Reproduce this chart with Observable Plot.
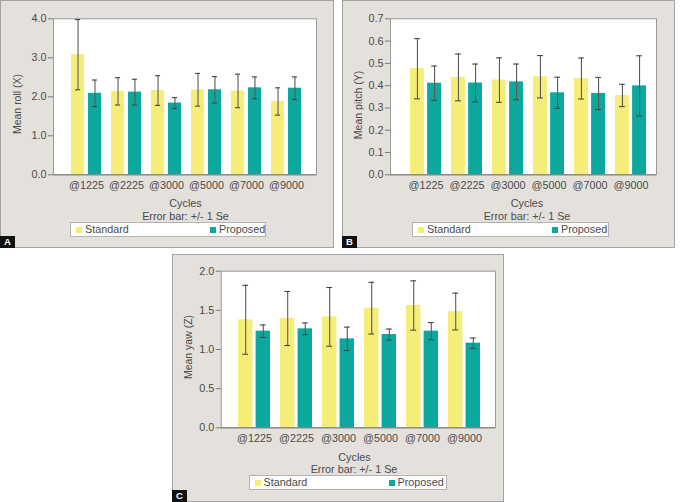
<!DOCTYPE html>
<html>
<head>
<meta charset="utf-8">
<script src="https://cdn.jsdelivr.net/npm/d3@7"></script>
<script src="https://cdn.jsdelivr.net/npm/@observablehq/plot@0.6"></script>
<style>
  html, body { margin: 0; padding: 0; background: #ffffff; }
  #page { position: relative; width: 680px; height: 502px; overflow: hidden; font-family: "Liberation Sans", Arial, sans-serif; color: #4a4a4a; }
  .box { position: absolute; box-sizing: border-box; background: #e4e1dd; border: 1.5px solid #a2a2a2; }
  .svgwrap { position: absolute; }
  .txt { position: absolute; font-size: 10.8px; white-space: nowrap; transform: translate(-50%, -50%); line-height: 1; }
  .ylab { position: absolute; font-size: 10.5px; white-space: nowrap; transform: translate(-50%, -50%) rotate(-90deg); line-height: 1; }
  .legend { position: absolute; box-sizing: border-box; background: #ffffff; border: 1px solid #b4b4b4; }
  .sw { position: absolute; width: 6px; height: 6px; top: 3.5px; }
  .lt { position: absolute; font-size: 10.8px; top: 1px; line-height: 1; white-space: nowrap; }
  .tag { position: absolute; width: 15px; height: 12px; background: #111; color: #fff; font-weight: bold; font-size: 9.5px; text-align: center; line-height: 12px; }
</style>
</head>
<body>
<div id="page"></div>
<script>
// ---------- data ----------
const cycles = ["@1225", "@2225", "@3000", "@5000", "@7000", "@9000"];
const seriesNames = ["Standard", "Proposed"];

const rollStandard   = [3.08, 2.14, 2.16, 2.18, 2.15, 1.88];
const rollStandardSe = [0.90, 0.35, 0.38, 0.42, 0.43, 0.35];
const rollProposed   = [2.09, 2.12, 1.84, 2.18, 2.23, 2.22];
const rollProposedSe = [0.34, 0.33, 0.14, 0.34, 0.28, 0.29];
const rollTicks = [0, 1, 2, 3, 4];

const pitchStandard   = [0.476, 0.437, 0.425, 0.440, 0.432, 0.356];
const pitchStandardSe = [0.135, 0.105, 0.100, 0.095, 0.092, 0.050];
const pitchProposed   = [0.411, 0.412, 0.417, 0.368, 0.365, 0.399];
const pitchProposedSe = [0.077, 0.085, 0.080, 0.070, 0.072, 0.135];
const pitchTicks = [0, 0.1, 0.2, 0.3, 0.4, 0.5, 0.6, 0.7];

const yawStandard   = [1.379, 1.396, 1.417, 1.528, 1.562, 1.485];
const yawStandardSe = [0.440, 0.345, 0.375, 0.330, 0.315, 0.235];
const yawProposed   = [1.234, 1.264, 1.136, 1.191, 1.234, 1.081];
const yawProposedSe = [0.080, 0.075, 0.150, 0.070, 0.110, 0.066];
const yawTicks = [0, 0.5, 1, 1.5, 2];

const yellow = "#f4ee78";
const teal = "#0da89d";

function rows(std, stdSe, prop, propSe) {
  const out = [];
  cycles.forEach((c, i) => {
    out.push({cycle: c, series: seriesNames[0], value: std[i], lo: std[i] - stdSe[i], hi: std[i] + stdSe[i]});
    out.push({cycle: c, series: seriesNames[1], value: prop[i], lo: prop[i] - propSe[i], hi: prop[i] + propSe[i]});
  });
  return out;
}

const panels = [
  {tag: "A", ylabel: "Mean roll (X)", data: rows(rollStandard, rollStandardSe, rollProposed, rollProposedSe),
   domain: [0, 4], ticks: rollTicks,
   box: {l: 0, t: 0, w: 334, h: 248}, frame: {l: 53, t: 18.3, r: 316, b: 174.3}, align: 0.56,
   legend: {l: 70, t: 222, w: 196}, cycles: {x: 185.5, y: 203.3}, err: {x: 185.5, y: 216}, ylab: {x: 17, y: 104}},
  {tag: "B", ylabel: "Mean pitch (Y)", data: rows(pitchStandard, pitchStandardSe, pitchProposed, pitchProposedSe),
   domain: [0, 0.7], ticks: pitchTicks,
   box: {l: 342, t: 0, w: 333, h: 248}, frame: {l: 390, t: 18.3, r: 656, b: 174.3}, align: 0.66,
   legend: {l: 412, t: 222, w: 197}, cycles: {x: 527, y: 203.3}, err: {x: 527, y: 216}, ylab: {x: 358, y: 105}},
  {tag: "C", ylabel: "Mean yaw (Z)", data: rows(yawStandard, yawStandardSe, yawProposed, yawProposedSe),
   domain: [0, 2], ticks: yawTicks,
   box: {l: 172, t: 254, w: 332, h: 248}, frame: {l: 220.7, t: 270.7, r: 495, b: 427.3}, align: 0.53,
   legend: {l: 248.5, t: 475, w: 198}, cycles: {x: 354.5, y: 456.7}, err: {x: 354, y: 468.5}, ylab: {x: 187.5, y: 347}}
];

const page = document.getElementById("page");
function el(cls, css, text) {
  const d = document.createElement("div");
  d.className = cls;
  Object.assign(d.style, css);
  if (text != null) d.textContent = text;
  page.appendChild(d);
  return d;
}

const paddingInner = 0.245, paddingOuter = 0.34, gap = 3, cap = 3;

for (const p of panels) {
  const {box, frame} = p;
  el("box", {left: box.l + "px", top: box.t + "px", width: box.w + "px", height: box.h + "px"});

  const svgH = Math.round(frame.b - box.t + 22);
  const mL = frame.l - box.l, mT = frame.t - box.t, mR = box.l + box.w - frame.r, mB = svgH - (frame.b - box.t);

  const xs = Plot.scale({x: {type: "band", domain: cycles, range: [mL, box.w - mR], paddingInner, paddingOuter, align: p.align}});
  const bw = xs.bandwidth;
  const off = bw / 4 + gap / 4;
  const std = p.data.filter(d => d.series === seriesNames[0]);
  const prop = p.data.filter(d => d.series === seriesNames[1]);

  const chart = Plot.plot({
    width: box.w, height: svgH,
    marginLeft: mL, marginTop: mT, marginRight: mR, marginBottom: mB,
    style: {background: "transparent", fontFamily: "'Liberation Sans', Arial, sans-serif", fontSize: "10.8px", color: "#4a4a4a", overflow: "visible"},
    x: {domain: cycles, type: "band", paddingInner, paddingOuter, align: p.align, label: null},
    y: {domain: p.domain, label: null},
    marks: [
      Plot.frame({fill: "white", stroke: "#9a9a9a", strokeWidth: 1}),
      Plot.barY(std, {x: "cycle", y: "value", fill: yellow, insetRight: bw / 2 + gap / 2, insetLeft: 0}),
      Plot.barY(prop, {x: "cycle", y: "value", fill: teal, insetLeft: bw / 2 + gap / 2, insetRight: 0}),
      Plot.ruleX(std, {x: "cycle", y1: "lo", y2: "hi", dx: -off, stroke: "#5a5a5a", strokeWidth: 1.1}),
      Plot.ruleX(prop, {x: "cycle", y1: "lo", y2: "hi", dx: off, stroke: "#5a5a5a", strokeWidth: 1.1}),
      Plot.tickY(std, {x: "cycle", y: "lo", insetLeft: bw / 2 - off - cap, insetRight: bw / 2 + off - cap, stroke: "#444", strokeWidth: 1.1}),
      Plot.tickY(std, {x: "cycle", y: "hi", insetLeft: bw / 2 - off - cap, insetRight: bw / 2 + off - cap, stroke: "#444", strokeWidth: 1.1}),
      Plot.tickY(prop, {x: "cycle", y: "lo", insetLeft: bw / 2 + off - cap, insetRight: bw / 2 - off - cap, stroke: "#444", strokeWidth: 1.1}),
      Plot.tickY(prop, {x: "cycle", y: "hi", insetLeft: bw / 2 + off - cap, insetRight: bw / 2 - off - cap, stroke: "#444", strokeWidth: 1.1}),
      Plot.ruleY([0], {stroke: "#7a7a7a", strokeWidth: 1}),
      Plot.axisY({ticks: p.ticks, tickFormat: d3.format(".1f"), tickSize: 5, tickPadding: 2, label: null, stroke: "#7a7a7a", fill: "#4a4a4a"}),
      Plot.axisX({tickSize: 0, tickPadding: 7, label: null, fill: "#4a4a4a"})
    ]
  });
  const wrap = el("svgwrap", {left: box.l + "px", top: box.t + "px", width: box.w + "px", height: svgH + "px"});
  wrap.appendChild(chart);

  el("txt", {left: p.cycles.x + "px", top: p.cycles.y + "px"}, "Cycles");
  el("txt", {left: p.err.x + "px", top: p.err.y + "px"}, "Error bar: +/- 1 Se");
  el("ylab", {left: p.ylab.x + "px", top: p.ylab.y + "px"}, p.ylabel);

  const lg = el("legend", {left: p.legend.l + "px", top: p.legend.t + "px", width: p.legend.w + "px", height: "14.5px"});
  const items = [[seriesNames[0], yellow, 5], [seriesNames[1], teal, 139]];
  for (const [name, color, x] of items) {
    const s = document.createElement("div"); s.className = "sw";
    Object.assign(s.style, {left: x + "px", background: color}); lg.appendChild(s);
    const t = document.createElement("div"); t.className = "lt";
    Object.assign(t.style, {left: (x + 9) + "px"}); t.textContent = name; lg.appendChild(t);
  }
  el("tag", {left: box.l + "px", top: (box.t + box.h - 12) + "px"}, p.tag);
}
</script>
</body>
</html>
